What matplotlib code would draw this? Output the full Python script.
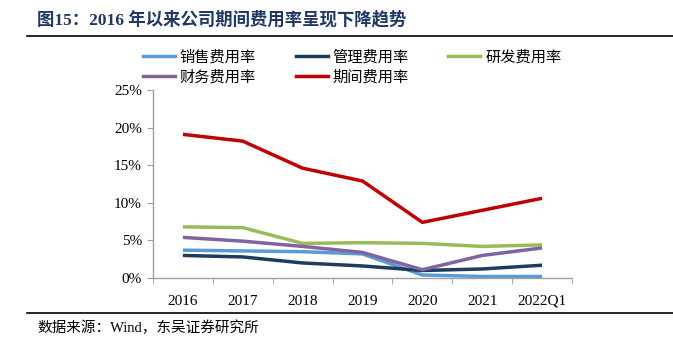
import matplotlib
matplotlib.use("Agg")
import matplotlib.pyplot as plt
from matplotlib.lines import Line2D
import numpy as np

categories = ["2016", "2017", "2018", "2019", "2020", "2021", "2022Q1"]
sales = [3.7, 3.6, 3.5, 3.2, 0.4, 0.2, 0.2]
admin = [3.0, 2.8, 2.0, 1.6, 1.0, 1.2, 1.7]
rnd = [6.8, 6.7, 4.6, 4.7, 4.6, 4.2, 4.4]
finance = [5.4, 4.9, 4.2, 3.4, 1.1, 3.0, 4.0]
period = [19.1, 18.2, 14.6, 12.9, 7.4, 9.0, 10.6]
yticks = [0, 5, 10, 15, 20, 25]

names = ["销售费用率", "管理费用率", "研发费用率", "财务费用率", "期间费用率"]
series = [sales, admin, rnd, finance, period]
colors = ["#5B9BD5", "#1F3B5E", "#9BBB59", "#8064A2", "#C00000"]

FAM = ["Liberation Serif", "Noto Sans CJK SC"]
plt.rcParams["font.family"] = FAM

fig = plt.figure(figsize=(6.73, 3.5), dpi=100)
ax = fig.add_axes([153/673, 1-278/350, 419/673, 188/350])

x = np.arange(len(categories))
lines = []
for vals, c, n in zip(series, colors, names):
    ln, = ax.plot(x, vals, color=c, lw=2.5, label=n, solid_capstyle="butt")
    lines.append(ln)

ax.set_xlim(-0.5, len(categories)-0.5)
ax.set_ylim(0, 25)
ax.set_yticks(yticks)
ax.set_yticklabels([f"{v}%" for v in yticks], fontsize=11, family=FAM)
ax.set_xticks(x)
ax.set_xticklabels(categories, fontsize=11, family=FAM)
ax.set_xticks(np.arange(-0.5, len(categories)), minor=True)
ax.tick_params(axis="x", which="major", length=0, pad=12)
ax.tick_params(axis="x", which="minor", length=4, color="#A0A0A0", direction="out")
ax.tick_params(axis="y", length=4, color="#A0A0A0", direction="out", pad=4)
for s in ["top", "right"]:
    ax.spines[s].set_visible(False)
for s in ["left", "bottom"]:
    ax.spines[s].set_color("#A0A0A0")
    ax.spines[s].set_linewidth(1)

# legend: row-major order across 3 columns
order = [0, 3, 1, 4, 2]
handles = [Line2D([], [], color=colors[i], lw=2.5) for i in order]
labels = [names[i] for i in order]
leg = fig.legend(handles, labels, ncol=3, loc="upper left",
                 bbox_to_anchor=(137/673, 1-44/350), frameon=False,
                 prop={"family": FAM, "size": 11}, handlelength=2.1,
                 handletextpad=0.3, columnspacing=2.6, labelspacing=0.35,
                 borderaxespad=0)

# title and rules
fig.text(37/673, 1-20/350, "图15：2016 年以来公司期间费用率呈现下降趋势",
         fontsize=12.5, fontweight="bold", color="#1F3864", va="center",
         family=["Liberation Serif", "Noto Sans CJK SC"])
fig.add_artist(Line2D([27/673, 1], [1-36/350, 1-36/350], color="black", lw=1.2,
                      transform=fig.transFigure))
fig.add_artist(Line2D([27/673, 1], [1-313/350, 1-313/350], color="black", lw=1.2,
                      transform=fig.transFigure))
fig.text(37/673, 1-328/350, "数据来源：Wind，东吴证券研究所", fontsize=10.5,
         va="center", family=FAM)

fig.savefig("out.png", dpi=100)
